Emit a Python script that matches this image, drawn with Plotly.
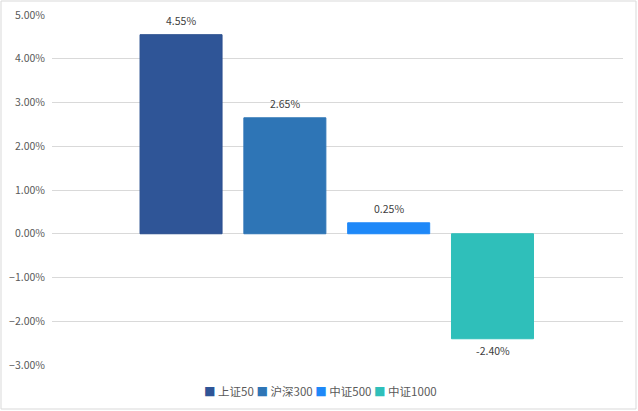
import plotly.graph_objects as go

names = ["上证50", "沪深300", "中证500", "中证1000"]
values = [0.0455, 0.0265, 0.0025, -0.0240]
colors = ["#2F5597", "#2E75B6", "#1E88F8", "#2FBFBA"]
line_colors = ["#2A4F8F", "#2E75B6", "#1E88F8", "#2FBFBA"]

W, H = 638, 411
ml, mr, mt, mb = 52, 15, 15, 46
pw, ph = W - ml - mr, H - mt - mb

fig = go.Figure()
for name, val, c, lc in zip(names, values, colors, line_colors):
    fig.add_trace(go.Bar(
        x=[name], y=[val], name=name, width=0.79,
        marker=dict(color=c, line=dict(color=lc, width=1)),
    ))
    # value label sitting a little off the bar end, Excel style
    fig.add_annotation(x=name, y=val, text=f"{val:.2%}", showarrow=False,
                       yanchor="middle", yshift=14 if val >= 0 else -12,
                       font=dict(size=10.5, color="#404040"))

fig.update_layout(
    width=W, height=H,
    margin=dict(l=ml, r=mr, t=mt, b=mb, autoexpand=False),
    plot_bgcolor="white", paper_bgcolor="white",
    font=dict(family="Noto Sans CJK SC", size=10.5, color="#595959"),
    barmode="overlay",
    showlegend=False,
    xaxis=dict(type="category", range=[-1.243, 4.257], showticklabels=False,
               showgrid=False, zeroline=False, showline=False),
    yaxis=dict(range=[-0.03, 0.05], dtick=0.01, tickformat=".2%",
               showgrid=True, gridcolor="#D9D9D9", gridwidth=1,
               zeroline=True, zerolinecolor="#D9D9D9", zerolinewidth=1,
               showline=False, ticks="", ticklabelstandoff=6,
               tickfont=dict(size=10.5, color="#595959")),
)

# legend drawn as one line of coloured squares and names, like the original
legend_text = " ".join(
    f"<span style='color:{c}'>■</span> {n}" for n, c in zip(names, colors)
)
fig.add_annotation(text=legend_text, xref="paper", yref="paper",
                   x=(320 - ml) / pw, y=-(391 - mt - ph) / ph,
                   xanchor="center", yanchor="middle", showarrow=False,
                   font=dict(size=11.5, color="#595959"))

# outer chart frame
fig.add_shape(type="rect", xref="paper", yref="paper",
              x0=(1 - ml) / pw, x1=1 + (mr - 2) / pw,
              y0=-(mb - 2) / ph, y1=1 + (mt - 1) / ph,
              line=dict(color="#D9D9D9", width=1), layer="below")

fig.write_html("out.html", config={"displayModeBar": False},
               post_script="document.body.style.margin='0';")
